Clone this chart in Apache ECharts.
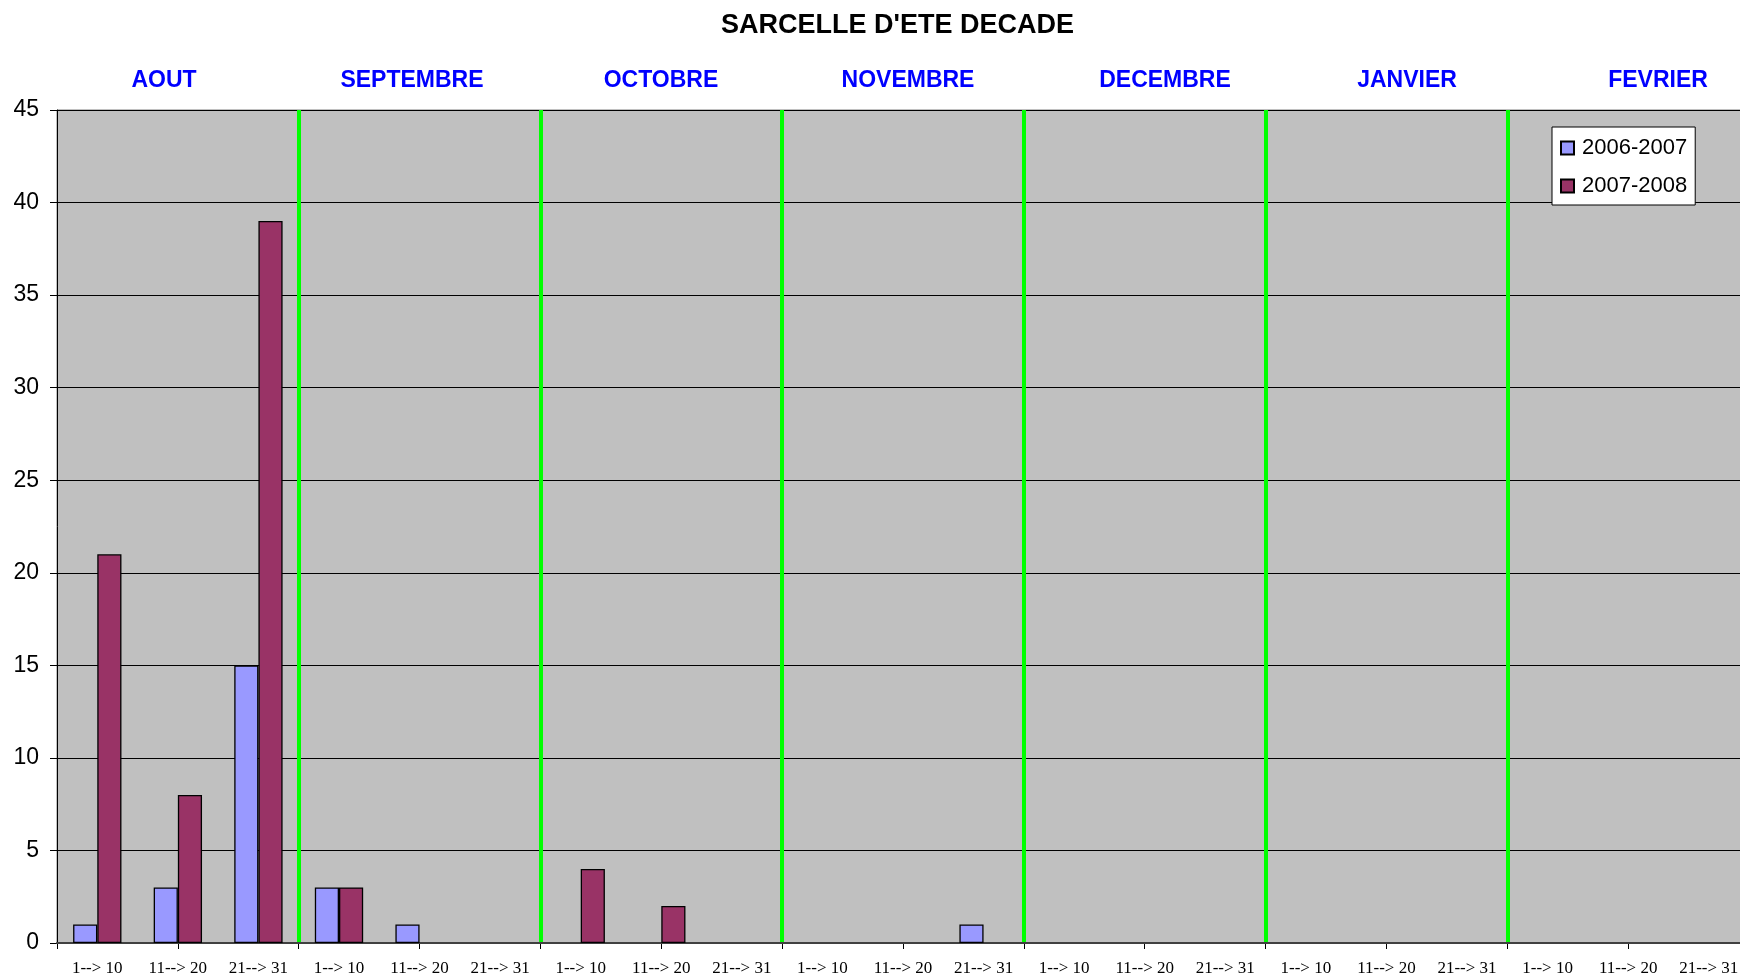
<!DOCTYPE html>
<html>
<head>
<meta charset="utf-8">
<script src="https://cdn.jsdelivr.net/npm/echarts@6/dist/echarts.min.js"></script>
<style>
  html, body { margin: 0; padding: 0; background: #fff; }
  #chart { width: 1740px; height: 974px; }
</style>
</head>
<body>
<div id="chart"></div>
<script>
// décades de chaque mois (aout -> fevrier)
const decades = [
  '1--> 10', '11--> 20', '21--> 31',
  '1--> 10', '11--> 20', '21--> 31',
  '1--> 10', '11--> 20', '21--> 31',
  '1--> 10', '11--> 20', '21--> 31',
  '1--> 10', '11--> 20', '21--> 31',
  '1--> 10', '11--> 20', '21--> 31',
  '1--> 10', '11--> 20', '21--> 31'
];
const mois = ['AOUT', 'SEPTEMBRE', 'OCTOBRE', 'NOVEMBRE', 'DECEMBRE', 'JANVIER', 'FEVRIER'];
const moisX = [164, 412, 661, 908, 1165, 1407, 1658];

const saison0607 = [1, 3, 15, 3, 1, null, null, null, null, null, null, 1, null, null, null, null, null, null, null, null, null];
const saison0708 = [21, 8, 39, 3, null, null, 4, 2, null, null, null, null, null, null, null, null, null, null, null, null, null];

const chart = echarts.init(document.getElementById('chart'));

const option = {
  animation: false,
  backgroundColor: '#ffffff',
  title: {
    text: "SARCELLE D'ETE DECADE",
    left: 721,
    top: 12,
    padding: 0,
    textStyle: { fontFamily: 'Liberation Sans', fontSize: 27, fontWeight: 'bold', color: '#000' }
  },
  graphic: mois.map((m, i) => ({
    type: 'text',
    x: moisX[i],
    y: 81,
    style: {
      text: m,
      fill: '#0000ff',
      font: 'bold 23px "Liberation Sans"',
      textAlign: 'center',
      textVerticalAlign: 'middle'
    }
  })),
  legend: {
    orient: 'vertical',
    left: 1552,
    top: 127,
    padding: [10, 8, 8, 8],
    itemGap: 16,
    itemWidth: 13,
    itemHeight: 13,
    icon: 'rect',
    backgroundColor: '#ffffff',
    borderColor: '#000',
    borderWidth: 1,
    textStyle: { fontFamily: 'Liberation Sans', fontSize: 22, color: '#000', padding: [0, 0, 0, 3] },
    data: ['2006-2007', '2007-2008']
  },
  grid: {
    left: 57,
    width: 1692,
    top: 110,
    bottom: 31,
    outerBoundsMode: 'none',
    containLabel: false,
    show: true,
    backgroundColor: '#c0c0c0',
    borderColor: '#808080',
    borderWidth: 1
  },
  xAxis: [
    {
      type: 'category',
      data: decades,
      z: 5,
      axisLine: { lineStyle: { color: '#404040', width: 2 } },
      axisTick: { show: false },
      axisLabel: {
        interval: 0,
        margin: 17,
        fontFamily: 'Liberation Serif',
        fontSize: 17,
        color: '#000'
      },
      splitLine: {
        show: true,
        interval: (idx) => idx > 0 && idx % 3 === 0,
        lineStyle: { color: '#00ff00', width: 4 }
      }
    },
    {
      type: 'value',
      position: 'bottom',
      min: 0,
      max: 21,
      interval: 1.5,
      axisLine: { show: false },
      axisLabel: { show: false },
      splitLine: { show: false },
      axisTick: { show: true, length: 6, lineStyle: { color: '#000', width: 1 } }
    }
  ],
  yAxis: {
    type: 'value',
    min: 0,
    max: 45,
    interval: 5,
    axisLine: { show: true, lineStyle: { color: '#000', width: 1 } },
    axisTick: { show: true, length: 7, lineStyle: { color: '#000' } },
    axisLabel: { margin: 18, fontFamily: 'Liberation Sans', fontSize: 23, color: '#000' },
    splitLine: { show: true, lineStyle: { color: '#000', width: 1 } }
  },
  series: [
    {
      name: '2006-2007',
      type: 'bar',
      xAxisIndex: 0,
      data: saison0607,
      barWidth: '30%',
      barGap: '0%',
      z: 6,
      itemStyle: { color: '#9999ff', borderColor: '#000', borderWidth: 1.3 }
    },
    {
      name: '2007-2008',
      type: 'bar',
      xAxisIndex: 0,
      data: saison0708,
      barWidth: '30%',
      barGap: '0%',
      z: 6,
      itemStyle: { color: '#993366', borderColor: '#000', borderWidth: 1.3 }
    }
  ]
};

chart.setOption(option);
</script>
</body>
</html>
